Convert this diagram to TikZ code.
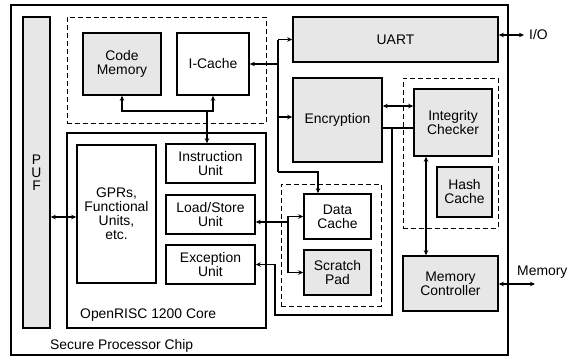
\documentclass[tikz,border=0pt]{standalone}
\usepackage{fontspec}
\setmainfont{Liberation Sans}
\usetikzlibrary{arrows.meta}
\definecolor{boxgray}{RGB}{231,231,231}
\tikzset{
  blk/.style={draw=black, line width=1.6pt, inner sep=0pt, align=center,
    font=\fontsize{13.9}{14}\selectfont},
  gblk/.style={blk, fill=boxgray},
  dashbox/.style={draw=black, line width=0.9pt, dash pattern=on 5pt off 3pt, inner sep=0pt},
  conn/.style={line width=1.4pt, -{Stealth[length=5pt,width=4.5pt]}},
  dconn/.style={line width=1.4pt, {Stealth[length=5pt,width=4.5pt]}-{Stealth[length=5pt,width=4.5pt]}},
  plain/.style={line width=1.4pt},
  lbl/.style={font=\fontsize{13.9}{14}\selectfont, inner sep=0pt}
}
\newcommand{\bx}[7]{\node[#1, minimum width=#5, minimum height=#6] (#2) at (#3,#4) {#7};}
\begin{document}
\begin{tikzpicture}[x=1pt,y=-1pt]
\useasboundingbox (0,0) rectangle (580,360);
% chip
\bx{blk}{chip}{259.5}{180}{497pt}{350pt}{}
\bx{gblk}{puf}{36.5}{172.5}{27pt}{311pt}{}
\node[lbl, align=center, font=\fontsize{13.9}{13}\selectfont] (puftxt) at (puf.center) {P\\U\\F};
% top dashed group
\bx{dashbox}{topdash}{166.5}{70}{199pt}{106pt}{}
\bx{gblk}{code}{122}{64}{78pt}{62pt}{Code\\Memory}
\bx{blk}{icache}{213}{64}{72pt}{62pt}{I-Cache}
% core
\bx{blk}{core}{166.5}{230.5}{199pt}{195pt}{}
\bx{blk}{gprs}{116.5}{214}{79pt}{138pt}{GPRs,\\Functional\\Units,\\etc.}
\bx{blk}{instr}{210.5}{163.5}{89pt}{39pt}{Instruction\\Unit}
\bx{blk}{ls}{210.5}{214.5}{89pt}{39pt}{Load/Store\\Unit}
\bx{blk}{exc}{210.5}{264.5}{89pt}{39pt}{Exception\\Unit}
\node[lbl, anchor=west] (coretxt) at (80,315) {OpenRISC 1200 Core};
\node[lbl, anchor=west] (chiptxt) at (50,346) {Secure Processor Chip};
% right side
\bx{gblk}{uart}{395.5}{39.5}{205pt}{45pt}{UART}
\bx{gblk}{enc}{337.5}{120}{89pt}{84pt}{Encryption}
\bx{dashbox}{datadash}{331}{245}{100pt}{122pt}{}
\bx{blk}{dcache}{337.5}{216.5}{67pt}{45pt}{Data\\Cache}
\bx{gblk}{spad}{337.5}{272.5}{67pt}{45pt}{Scratch\\Pad}
\bx{dashbox}{intdash}{450.5}{153}{95pt}{150pt}{}
\bx{gblk}{integ}{453}{122.5}{78pt}{67pt}{Integrity\\Checker}
\bx{gblk}{hash}{464.5}{192}{55pt}{50pt}{Hash\\Cache}
\bx{gblk}{memc}{450.5}{283.5}{95pt}{55pt}{Memory\\Controller}
% external labels
\node[lbl, anchor=west] (io) at (529,35) {I/O};
\node[lbl, anchor=west] (mem) at (517,272) {Memory};
\coordinate (ioend) at (524,35);
\coordinate (memend) at (535,284);
% connectors
\draw[dconn] (uart.east |- ioend) -- (ioend);
\draw[dconn] (memc.east |- memend) -- (memend);
% code / icache / instruction
\coordinate (j1) at (207,111);
\draw[dconn] (code.south) |- (icache.south |- j1) -- (icache.south);
\draw[conn] (j1) -- (j1 |- instr.north);
% bus
\coordinate (bt) at (278,39.5);
\coordinate (bb) at (278,172);
\coordinate (dct) at (318,172);
\draw[plain] (bt) -- (bb);
\draw[conn] (bb) -- (dct) -- (dct |- dcache.north);
\draw[conn] (bt) -- (uart.west);
\draw[conn] (bt |- icache.east) -- (icache.east);
\coordinate (encin) at (278,117);
\draw[conn] (encin) -- (encin -| enc.west);
% enc - integrity
\coordinate (ei) at (382,106);
\draw[dconn] (enc.east |- ei) -- (integ.west |- ei);
\coordinate (el) at (392,128);
\draw[plain] (enc.east |- el) -- (integ.west |- el);
\coordinate (eb) at (392,315);
\coordinate (ec) at (275,315);
\draw[conn] (el) -- (eb) -- (ec) -- (ec |- exc.east) -- (exc.east);
% load/store
\coordinate (lsj) at (288,222);
\draw[conn] (lsj) -- (lsj -| ls.east);
\coordinate (dsx) at (288,0);
\draw[dconn] (dcache.west) -- (dsx |- dcache.west) -- (dsx |- spad.west) -- (spad.west);
% puf - gprs
\coordinate (pg) at (50,217);
\draw[dconn] (puf.east |- pg) -- (gprs.west |- pg);
% integrity - memory controller
\coordinate (im) at (426,0);
\draw[dconn] (im |- integ.south) -- (im |- memc.north);
\end{tikzpicture}
\end{document}
